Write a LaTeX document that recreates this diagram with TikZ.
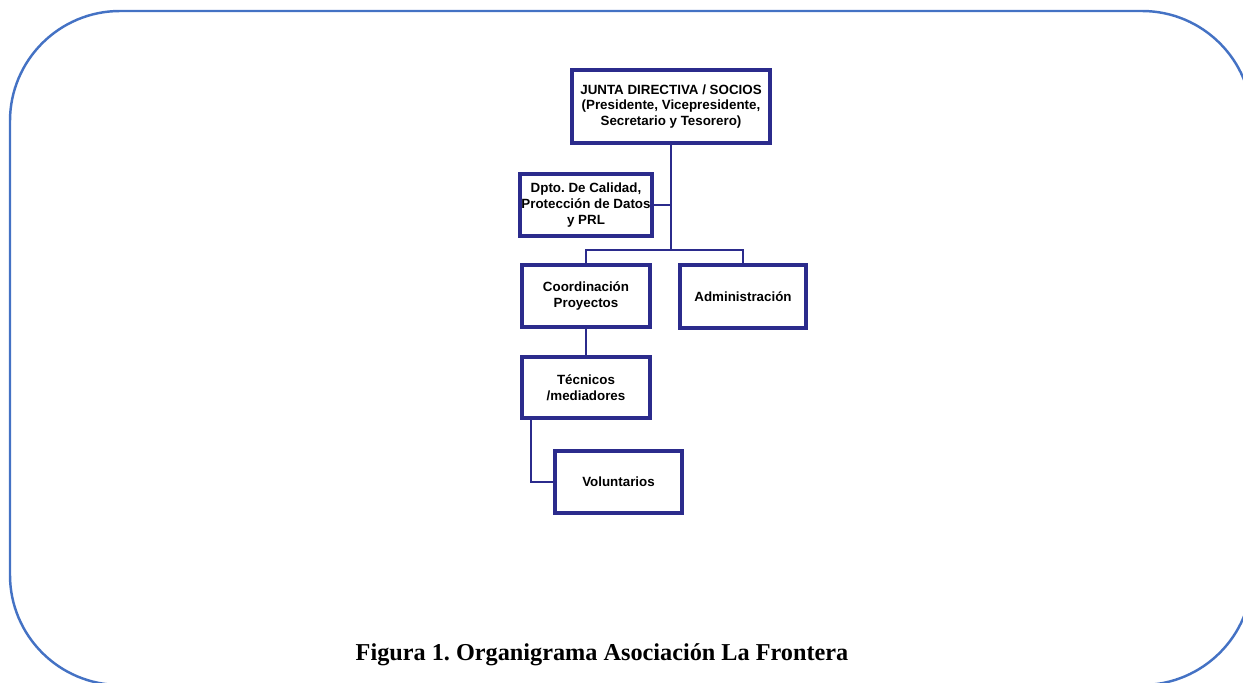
\documentclass[tikz,border=0pt]{standalone}
\usepackage{fontspec}
\setmainfont{Liberation Serif}
\setsansfont{Liberation Sans}
\usepackage{tikz}
\usetikzlibrary{shadows}
\frenchspacing

\definecolor{framecol}{RGB}{68,114,196}
\definecolor{navy}{RGB}{43,43,140}

\begin{document}
\begin{tikzpicture}[every node/.style={font=\sffamily\bfseries\fontsize{7.6}{9}\selectfont},
		unit/.style={rectangle, draw=navy, line width=2.3pt, fill=white, align=center,
			minimum width=2.56cm, minimum height=1.24cm, inner sep=1pt,
			drop shadow={shadow xshift=0.6pt, shadow yshift=-0.8pt, opacity=0.35}},
		link/.style={draw=navy, line width=1.6pt}]
			\useasboundingbox (0,0) rectangle (24.86,-13.66);
			\clip (0,0) rectangle (24.86,-13.66);

			% Frame
			\draw[framecol, line width=1.4pt, rounded corners=2.2cm] (0.2,-0.22) rectangle (25.04,-13.7);

			% Nodes
			\node[unit, minimum width=3.96cm, minimum height=1.46cm] (junta) at (13.42,-2.13) {JUNTA DIRECTIVA / SOCIOS\\(Presidente, Vicepresidente,\\Secretario y Tesorero)};
			\node[unit] (dpto) at (11.72,-4.10) {Dpto. De Calidad,\\Protección de Datos\\y PRL};
			\node[unit] (coord) at (11.72,-5.92) {Coordinación\\Proyectos};
			\node[unit, minimum width=2.52cm, minimum height=1.26cm] (admin) at (14.86,-5.93) {Administración};
			\node[unit, minimum height=1.22cm] (tec) at (11.72,-7.75) {Técnicos\\/mediadores};
			\node[unit, minimum width=2.54cm] (vol) at (12.37,-9.64) {Voluntarios};
			\coordinate (split) at (13.42,-5.0);

			% Links
			\draw[link] (junta.south) -- (split);
			\draw[link] (dpto.east) -- (dpto.east -| junta.south);
			\draw[link] (coord.north) |- (split) -| (admin.north);
			\draw[link] (coord.south) -- (tec.north);
			\draw[link] ([xshift=0.22cm]tec.south west) |- (vol.west);

			% Caption
			\node[font=\rmfamily\bfseries\fontsize{13.8}{16}\selectfont] (caption) at (12.04,-13.1) {Figura 1. Organigrama Asociación La Frontera};
		\end{tikzpicture}
\end{document}
